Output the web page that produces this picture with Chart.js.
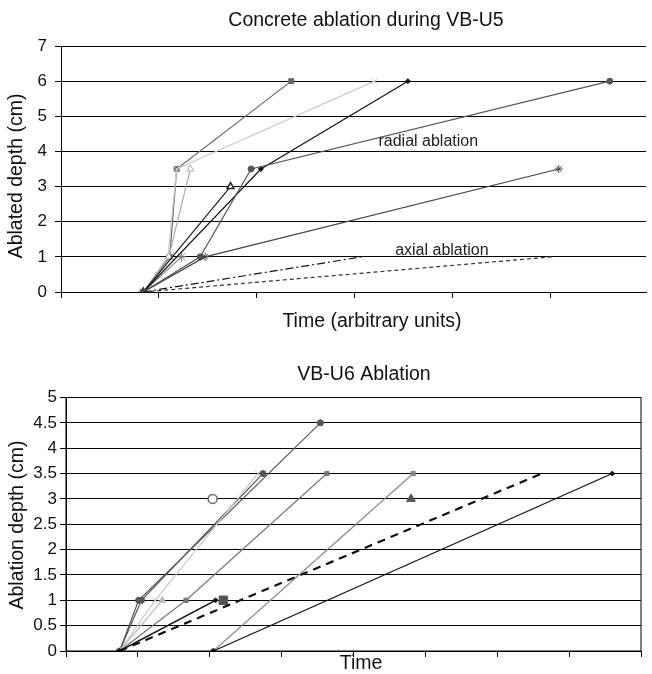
<!DOCTYPE html>
<html>
<head>
<meta charset="utf-8">
<script src="https://cdn.jsdelivr.net/npm/chart.js@4/dist/chart.umd.min.js"></script>
<style>
  body { margin: 0; background: #fff; }
  canvas { position: absolute; left: 0; }
</style>
</head>
<body>
<canvas id="u5" width="652" height="337" style="top:0"></canvas>
<canvas id="u6" width="652" height="337" style="top:337px"></canvas>
<script>
'use strict';

// VB-U5: [time, ablated depth] per run
var u5Square   = [[0.84, 0], [1.11, 1], [1.18, 3.5], [2.35, 6]];
var u5Cross    = [[0.84, 0], [1.09, 1], [1.18, 3.5], [3.20, 6]];
var u5Triangle = [[0.84, 0], [1.10, 1], [1.32, 3.5]];
var u5Star     = [[0.84, 0], [1.23, 1]];
var u5Diamond  = [[0.84, 0], [2.04, 3.5], [3.54, 6]];
var u5Circle   = [[0.84, 0], [1.42, 1], [1.94, 3.5], [5.60, 6]];
var u5OpenTri  = [[0.84, 0], [1.73, 3]];
var u5Asterisk = [[0.84, 0], [1.47, 1], [5.08, 3.5]];
var u5AxialA   = [[0.84, 0], [3.07, 1]];
var u5AxialB   = [[0.84, 0], [5.01, 1]];
var u5TimeTicks  = [0, 1, 2, 3, 4, 5];
var u5DepthTicks = [0, 1, 2, 3, 4, 5, 6, 7];
var u5Notes = [['radial ablation', 3.24, 4.27], ['axial ablation', 3.41, 1.17]];

// VB-U6: [time, ablation depth] per run
var u6CircleA  = [[0.745, 0], [1.01, 1], [3.54, 4.5]];
var u6CircleB  = [[0.745, 0], [1.05, 1], [2.74, 3.5]];
var u6Cross    = [[0.745, 0], [1.24, 1], [2.67, 3.5]];
var u6Triangle = [[0.745, 0], [1.34, 1]];
var u6Square   = [[0.745, 0], [1.67, 1], [3.63, 3.5]];
var u6Diamond  = [[0.745, 0], [2.08, 1]];
var u6BigSq    = [[2.19, 1]];
var u6Dashed   = [[0.745, 0], [6.62, 3.5]];
var u6LateSq   = [[2.05, 0], [4.83, 3.5]];
var u6LateDia  = [[2.05, 0], [7.60, 3.5]];
var u6OpenCirc = [[2.04, 3]];
var u6FillTri  = [[4.80, 3]];
var u6TimeTicks  = [0, 1, 2, 3, 4, 5, 6, 7, 8];
var u6DepthTicks = [0, 0.5, 1, 1.5, 2, 2.5, 3, 3.5, 4, 4.5, 5];

var FONT = "'Liberation Sans', Arial, sans-serif";
Chart.defaults.font.family = FONT;
Chart.defaults.color = '#111';

function series(points, color, style, extra) {
  return Object.assign({
    data: points.map(function (p) { return { x: p[0], y: p[1] }; }),
    borderColor: color,
    backgroundColor: color,
    pointBorderColor: color,
    pointBackgroundColor: color,
    pointStyle: style,
    pointRadius: 3,
    pointBorderWidth: 1,
    borderWidth: 1.2,
    showLine: true
  }, extra || {});
}

function xAxis(max, ticks, height) {
  return {
    type: 'linear', min: 0, max: max,
    afterBuildTicks: function (s) { s.ticks = ticks.map(function (v) { return { value: v }; }); },
    ticks: { display: false },
    grid: { drawOnChartArea: false, color: '#000', tickLength: 6 },
    border: { color: '#000' },
    afterFit: function (s) { s.height = height; }
  };
}

function yAxis(max, ticks, width, labelPad) {
  return {
    min: 0, max: max,
    afterBuildTicks: function (s) { s.ticks = ticks.map(function (v) { return { value: v }; }); },
    ticks: { font: { size: 17 }, padding: labelPad, callback: function (v) { return String(v); } },
    grid: { color: '#000', tickLength: 6 },
    border: { color: '#000' },
    afterFit: function (s) { s.width = width; }
  };
}

// free text: heading and axis captions, [text, x, y, size, rotated]
var captions = {
  id: 'captions',
  afterDraw: function (chart, args, opts) {
    var ctx = chart.ctx;
    (opts.items || []).forEach(function (c) {
      ctx.save();
      ctx.fillStyle = '#111';
      ctx.textAlign = 'center';
      ctx.textBaseline = 'middle';
      ctx.font = c[3] + 'px ' + FONT;
      ctx.translate(c[1], c[2]);
      if (c[4]) ctx.rotate(-Math.PI / 2);
      ctx.fillText(c[0], 0, 0);
      ctx.restore();
    });
  }
};

// labels placed in data coordinates
var notes = {
  id: 'notes',
  afterDatasetsDraw: function (chart, args, opts) {
    var ctx = chart.ctx, x = chart.scales.x, y = chart.scales.y;
    ctx.save();
    ctx.font = '16px ' + FONT;
    ctx.fillStyle = '#222';
    ctx.textBaseline = 'middle';
    (opts.items || []).forEach(function (n) {
      ctx.fillText(n[0], x.getPixelForValue(n[1]), y.getPixelForValue(n[2]));
    });
    ctx.restore();
  }
};

// closed box around the plot area
var frame = {
  id: 'frame',
  afterDraw: function (chart, args, opts) {
    if (!opts.show) return;
    var a = chart.chartArea, ctx = chart.ctx;
    ctx.save();
    ctx.strokeStyle = '#000';
    ctx.lineWidth = 1;
    ctx.strokeRect(a.left, a.top, a.right - a.left, a.bottom - a.top);
    ctx.restore();
  }
};

new Chart(document.getElementById('u5'), {
  type: 'scatter',
  data: {
    datasets: [
      series(u5AxialB, '#333', false, { borderDash: [4, 3], pointRadius: 0 }),
      series(u5AxialA, '#111', false, { borderDash: [8, 3, 2, 3], pointRadius: 0 }),
      series(u5Asterisk, '#444', 'star', { pointRadius: 4 }),
      series(u5Circle, '#555', 'circle'),
      series(u5Diamond, '#111', 'rectRot', { pointRadius: 2.5 }),
      series(u5OpenTri, '#222', 'triangle', { pointBackgroundColor: '#fff', pointRadius: 4, pointBorderWidth: 1.5 }),
      series(u5Star, '#888', 'star', { pointRadius: 5 }),
      series(u5Triangle, '#aaa', 'triangle', { pointBackgroundColor: '#fff', pointRadius: 4 }),
      series(u5Cross, '#ccc', 'crossRot', { pointRadius: 4 }),
      series(u5Square, '#666', 'rect', { pointRadius: 3.5 })
    ]
  },
  options: {
    responsive: false,
    animation: false,
    layout: { padding: { left: 0, right: 0, top: 46, bottom: 0 } },
    scales: {
      x: xAxis(5.97, u5TimeTicks, 45),
      y: yAxis(7, u5DepthTicks, 61, 8)
    },
    plugins: {
      legend: { display: false },
      tooltip: { enabled: false },
      captions: { items: [
        ['Concrete ablation during VB-U5', 366, 21, 19.5, false],
        ['Time (arbitrary units)', 372, 322, 19.5, false],
        ['Ablated depth (cm)', 17, 176, 19.5, true]
      ] },
      notes: { items: u5Notes },
      frame: { show: false }
    }
  },
  plugins: [captions, notes, frame]
});

new Chart(document.getElementById('u6'), {
  type: 'scatter',
  data: {
    datasets: [
      series(u6LateDia, '#111', 'rectRot', { pointRadius: 2.5 }),
      series(u6LateSq, '#888', 'rect'),
      series(u6Dashed, '#111', false, { borderDash: [8, 6], borderWidth: 2.2, pointRadius: 0 }),
      series(u6Diamond, '#111', 'rectRot', { pointRadius: 2.5, borderWidth: 1.5 }),
      series(u6Square, '#777', 'rect'),
      series(u6Triangle, '#bbb', 'triangle', { pointRadius: 4 }),
      series(u6Cross, '#c8c8c8', 'crossRot', { pointRadius: 4 }),
      series(u6CircleB, '#555', 'circle'),
      series(u6CircleA, '#555', 'circle'),
      series(u6BigSq, '#555', 'rect', { showLine: false, pointRadius: 6 }),
      series(u6OpenCirc, '#666', 'circle', { showLine: false, pointRadius: 4.5, pointBackgroundColor: '#fff', pointBorderWidth: 1.5 }),
      series(u6FillTri, '#555', 'triangle', { showLine: false, pointRadius: 5 })
    ]
  },
  options: {
    responsive: false,
    animation: false,
    layout: { padding: { left: 0, right: 11, top: 60.5, bottom: 0 } },
    scales: {
      x: xAxis(8, u6TimeTicks, 23),
      y: yAxis(5, u6DepthTicks, 66, 3)
    },
    plugins: {
      legend: { display: false },
      tooltip: { enabled: false },
      captions: { items: [
        ['VB-U6 Ablation', 364, 38, 19.5, false],
        ['Time', 361, 327, 19.5, false],
        ['Ablation depth (cm)', 18, 188, 19.5, true]
      ] },
      notes: { items: [] },
      frame: { show: true }
    }
  },
  plugins: [captions, notes, frame]
});
</script>
</body>
</html>
